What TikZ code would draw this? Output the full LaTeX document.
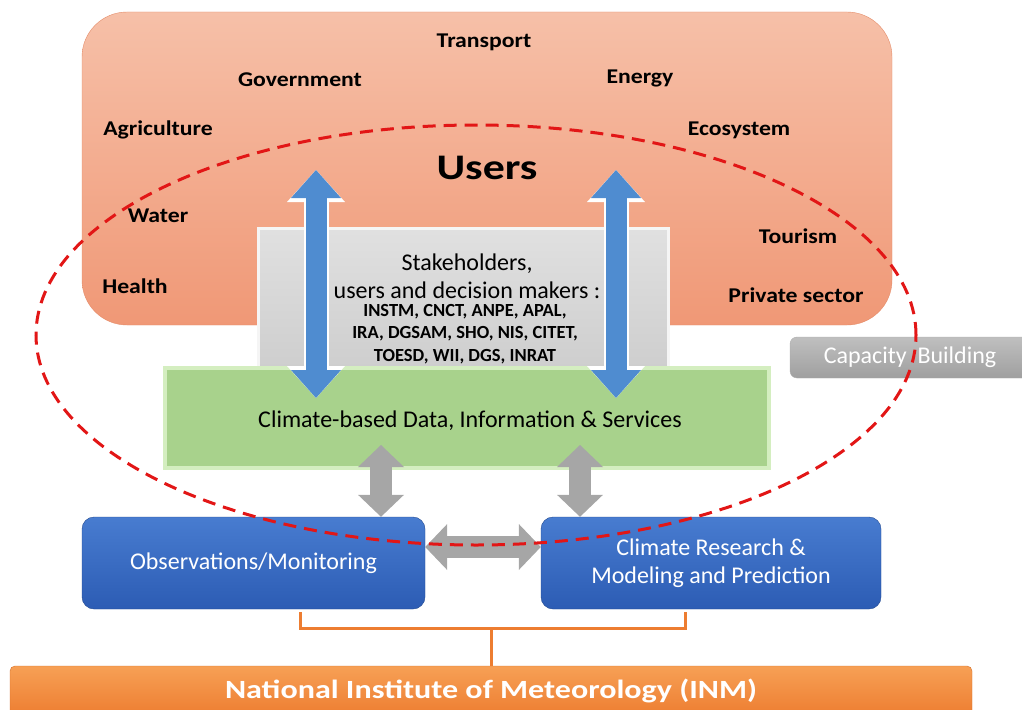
\documentclass[tikz,border=0pt]{standalone}
\usepackage{fontspec}
\setmainfont{Carlito}
\newfontfamily\widefont[FakeStretch=1.13]{Carlito}
\newfontfamily\widerfont[FakeStretch=1.22]{Carlito}
\usetikzlibrary{arrows.meta,positioning}

\definecolor{userTop}{RGB}{246,192,168}
\definecolor{userBot}{RGB}{240,152,118}
\definecolor{userLine}{RGB}{228,140,105}
\definecolor{arrowBlue}{RGB}{79,140,208}
\definecolor{greenFill}{RGB}{168,210,140}
\definecolor{greenLine}{RGB}{212,238,192}
\definecolor{boxTop}{RGB}{72,124,208}
\definecolor{boxBot}{RGB}{44,92,180}
\definecolor{inmOrange}{RGB}{237,125,49}
\definecolor{inmTop}{RGB}{247,160,85}
\definecolor{dashRed}{RGB}{226,22,22}

\begin{document}
\begin{tikzpicture}[x=1pt,y=-1pt,
  sector/.style={font=\widefont\fontsize{21}{24}\selectfont\bfseries, inner sep=1pt},
  bluebox/.style={rounded corners=12pt, inner sep=2pt, align=center,
    top color=boxTop, bottom color=boxBot, draw=boxBot!80!black,
    text=white, font=\fontsize{24}{28}\selectfont},
  fatblue/.style={draw=arrowBlue, line width=21pt,
    {Triangle[width=50pt,length=28pt,line width=0pt]}-{Triangle[width=50pt,length=28pt,line width=0pt]},
    preaction={draw=white, line width=25pt,
      {Triangle[width=58pt,length=32pt,line width=0pt]}-{Triangle[width=58pt,length=32pt,line width=0pt]}}},
  fatgray/.style={draw=gray!70, line width=22pt,
    {Triangle[width=46pt,length=22pt,line width=0pt]}-{Triangle[width=46pt,length=22pt,line width=0pt]}},
  bracket/.style={draw=inmOrange, line width=3pt}]

\useasboundingbox (0,0) rectangle (1022,709);

% Users area
\node[draw=userLine, top color=userTop, bottom color=userBot, rounded corners=45pt,
  minimum width=810pt, minimum height=313pt] (users) at (487,168.5) {};
\node[font=\widerfont\fontsize{36}{44}\selectfont\bfseries] (usersTitle) at (487,168) {Users};

\node[sector] (transport)  at (484,42)  {Transport};
\node[sector] (government) at (300,80)  {Government};
\node[sector] (energy)     at (640,78)  {Energy};
\node[sector] (agri)       at (158,130) {Agriculture};
\node[sector] (ecosystem)  at (739,130) {Ecosystem};
\node[sector] (water)      at (158,216) {Water};
\node[sector] (tourism)    at (798,236) {Tourism};
\node[sector] (health)     at (135,286) {Health};
\node[sector] (private)    at (796,295) {Private sector};

% Stakeholders
\node[draw=gray!8, line width=3pt, top color=gray!24, bottom color=gray!40,
  minimum width=410pt, minimum height=155pt] (stake) at (463,305.5) {};
\node[align=center, font=\fontsize{24}{28}\selectfont] (stakeTitle) at (467,276)
  {Stakeholders,\\ users and decision makers :};
\node[align=center, font=\fontsize{18.5}{22.5}\selectfont\bfseries] (stakeList) at (465,334)
  {INSTM, CNCT, ANPE, APAL,\\ IRA, DGSAM, SHO, NIS, CITET,\\ TOESD, WII, DGS, INRAT};

% Climate services
\node[draw=greenLine, line width=4pt, fill=greenFill,
  minimum width=604pt, minimum height=100pt] (services) at (467,418) {};
\node[font=\fontsize{24}{28}\selectfont] (servicesText) at (470,421)
  {Climate-based Data, Information \& Services};

% Capacity building
\node[rounded corners=7pt, top color=gray!50, bottom color=gray!75, draw=gray!65,
  text=white, font=\fontsize{24}{28}\selectfont,
  minimum width=240pt, minimum height=41pt] (capacity) at (910,357.5) {Capacity\ \ Building};

% Components
\node[bluebox, minimum width=343pt, minimum height=92pt] (obs) at (253.5,563)
  {Observations/Monitoring};
\node[bluebox, minimum width=340pt, minimum height=92pt] (research) at (711,563)
  {Climate Research \&\\ Modeling and Prediction};

\node[rounded corners=5pt, top color=inmTop, bottom color=inmOrange, draw=inmOrange!90!black,
  text=white, font=\widerfont\fontsize{26.3}{32}\selectfont\bfseries,
  minimum width=962pt, minimum height=50pt] (inm) at (491,691) {National Institute of Meteorology (INM)};

% Bracket to INM
\coordinate (bl) at (300,612);
\coordinate (br) at (685,612);
\coordinate (bm) at (491,628);
\draw[bracket] (bl) -- (bl |- bm) -- (br |- bm) -- (br);
\draw[bracket] (bm) -- (bm |- inm.north);

% Arrows
\coordinate (aTop1) at (316,170);
\coordinate (aBot1) at (316,398);
\coordinate (aTop2) at (616,170);
\coordinate (aBot2) at (616,398);
\draw[fatblue] (aTop1) -- (aBot1);
\draw[fatblue] (aTop2) -- (aBot2);

\coordinate (gTop1) at (381,445);
\coordinate (gTop2) at (580,445);
\draw[fatgray] (gTop1) -- (gTop1 |- obs.north);
\draw[fatgray] (gTop2) -- (gTop2 |- research.north);
\draw[fatgray] (obs.east |- 0,547) -- (research.west |- 0,547);

% Dashed ellipse
\draw[dashRed, line width=3pt, dash pattern=on 13pt off 8pt]
  (476,335) ellipse [x radius=440pt, y radius=210pt];

\end{tikzpicture}
\end{document}
